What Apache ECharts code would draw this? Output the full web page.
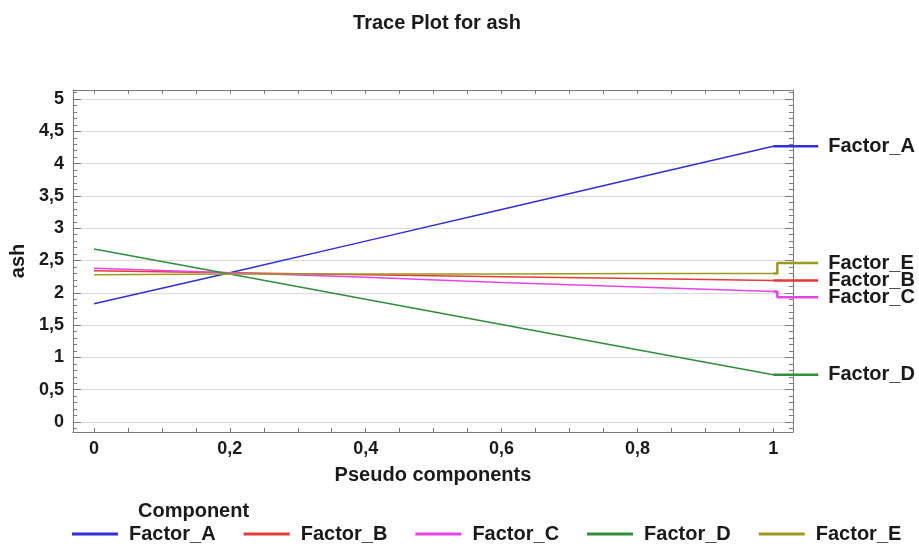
<!DOCTYPE html>
<html><head><meta charset="utf-8">
<script src="https://cdn.jsdelivr.net/npm/echarts@6/dist/echarts.min.js"></script>
<style>html,body{margin:0;padding:0;background:#fff}#c{width:919px;height:544px}</style>
</head><body><div id="c"></div>
<script>
// ---- data ----
var xs = [0, 0.2, 0.4, 0.6, 0.8, 1];
var factorA = [1.83, 2.31, 2.80, 3.29, 3.78, 4.27];
var factorB = [2.34, 2.31, 2.28, 2.25, 2.22, 2.19];
var factorC = [2.38, 2.31, 2.24, 2.16, 2.09, 2.02];
var factorD = [2.68, 2.29, 1.90, 1.51, 1.12, 0.73];
var factorE = [2.28, 2.29, 2.29, 2.29, 2.30, 2.30];
var names = ['Factor_A', 'Factor_B', 'Factor_C', 'Factor_D', 'Factor_E'];
var labelLevels = [4.27, 2.19, 1.93, 0.73, 2.46];
var xTickLabels = [0, 0.2, 0.4, 0.6, 0.8, 1];
var xTicks = [0,0.05,0.1,0.15,0.2,0.25,0.3,0.35,0.4,0.45,0.5,0.55,0.6,0.65,0.7,0.75,0.8,0.85,0.9,0.95,1];
var yTickLabels = [0, 0.5, 1, 1.5, 2, 2.5, 3, 3.5, 4, 4.5, 5];
var yMinorTicks = [];
for (var i = -1; i <= 51; i++) yMinorTicks.push(i / 10);

var colors = ['#2f2fdc', '#e63a3a', '#e645e6', '#2f8f3a', '#9c9a1e'];
var values = [factorA, factorB, factorC, factorD, factorE];

var FONT = 'Liberation Sans, Arial, sans-serif';
var txt = '#1a1a1a';
var frame = '#7a7a7a';
var xMin = -0.031, xMax = 1.029, yMin = -0.155, yMax = 5.14;
// plot frame pixels: 71..793 ; label grid extends to 830 with identical scale
var xMaxWide = xMin + (xMax - xMin) * (830 - 71) / (793 - 71);
var fmt = function (v) { return String(v).replace('.', ','); };

function xAx(pos) {
  return {
    type: 'value', gridIndex: 0, position: pos, min: xMin, max: xMax,
    axisLine: { show: true, onZero: false, lineStyle: { color: frame, width: 1 } },
    axisTick: { show: true, inside: true, length: 4, customValues: xTicks, lineStyle: { color: frame } },
    axisLabel: pos === 'bottom' ? { show: true, customValues: xTickLabels, formatter: fmt, color: txt, fontFamily: FONT, fontWeight: 'bold', fontSize: 18, margin: 8 } : { show: false },
    splitLine: { show: false },
    name: pos === 'bottom' ? 'Pseudo components' : '',
    nameLocation: 'middle', nameGap: 33,
    nameTextStyle: { color: txt, fontFamily: FONT, fontWeight: 'bold', fontSize: 20 }
  };
}
function yAx(pos, minor) {
  return {
    type: 'value', gridIndex: 0, position: pos, offset: 0, min: yMin, max: yMax,
    axisLine: { show: !minor, onZero: false, lineStyle: { color: frame, width: 1 } },
    axisTick: { show: true, inside: true, length: minor ? 4 : 8, customValues: minor ? yMinorTicks : yTickLabels, lineStyle: { color: frame } },
    axisLabel: (pos === 'left' && !minor) ? { show: true, customValues: yTickLabels, formatter: fmt, color: txt, fontFamily: FONT, fontWeight: 'bold', fontSize: 18, margin: 9 } : { show: false },
    splitLine: (pos === 'left' && !minor) ? { show: true, lineStyle: { color: '#dadada', width: 1 } } : { show: false },
    name: (pos === 'left' && !minor) ? 'ash' : '',
    nameLocation: 'middle', nameGap: 42, nameRotate: 90,
    nameTextStyle: { color: txt, fontFamily: FONT, fontWeight: 'bold', fontSize: 20 }
  };
}

var series = [];
names.forEach(function (n, k) {
  series.push({
    name: n, type: 'line', xAxisIndex: 0, yAxisIndex: 0,
    data: xs.map(function (x, j) { return [x, values[k][j]]; }),
    symbol: 'none', lineStyle: { color: colors[k], width: 1.5 }, itemStyle: { color: colors[k] },
    silent: true, animation: false, z: 3
  });
});
names.forEach(function (n, k) {
  var last = values[k][values[k].length - 1];
  series.push({
    name: n + ' label', type: 'line', xAxisIndex: 2, yAxisIndex: 4,
    data: [[1, last], [1.006, last], [1.006, labelLevels[k]], [1.066, labelLevels[k]]],
    symbol: 'none', lineStyle: { color: colors[k], width: 2.5 }, itemStyle: { color: colors[k] },
    silent: true, animation: false, z: 4,
    endLabel: { show: true, formatter: n, distance: 10, color: txt, fontFamily: FONT, fontWeight: 'bold', fontSize: 20 }
  });
});

var hidden = { axisLine: { show: false }, axisTick: { show: false }, axisLabel: { show: false }, splitLine: { show: false } };

var chart = echarts.init(document.getElementById('c'), null, { renderer: 'canvas' });
chart.setOption({
  animation: false,
  backgroundColor: '#fff',
  title: [
    { text: 'Trace Plot for ash', left: 432, textAlign: 'center', top: 8, textStyle: { color: txt, fontFamily: FONT, fontWeight: 'bold', fontSize: 20 } },
    { text: 'Component', left: 133, top: 496, textStyle: { color: txt, fontFamily: FONT, fontWeight: 'bold', fontSize: 20 } }
  ],
  grid: [
    { left: 71, right: 126, top: 90, bottom: 112, containLabel: false },
    { left: 71, right: 919 - 830, top: 90, bottom: 112, containLabel: false }
  ],
  xAxis: [xAx('bottom'), xAx('top'),
    Object.assign({ type: 'value', gridIndex: 1, min: xMin, max: xMaxWide }, hidden)],
  yAxis: [yAx('left', false), yAx('left', true), yAx('right', false), yAx('right', true),
    Object.assign({ type: 'value', gridIndex: 1, min: yMin, max: yMax }, hidden)],
  legend: {
    data: names, left: 72, top: 524, width: 846, padding: 0, icon: 'rect', itemWidth: 46, itemHeight: 3, itemGap: 28,
    textStyle: { color: txt, fontFamily: FONT, fontWeight: 'bold', fontSize: 20, padding: [0, 0, 0, 6] }
  },
  series: series
});
</script></body></html>
